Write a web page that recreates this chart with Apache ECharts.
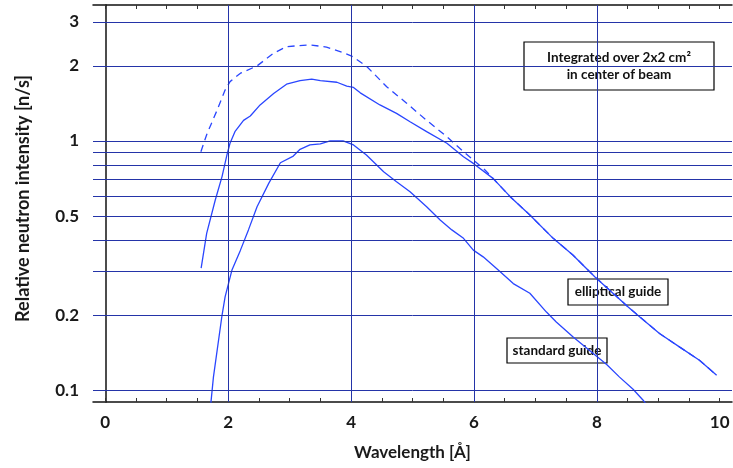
<!DOCTYPE html>
<html>
<head>
<meta charset="utf-8">
<script src="https://cdn.jsdelivr.net/npm/echarts@6/dist/echarts.min.js"></script>
<style>
html,body{margin:0;padding:0;background:#fff;}
#chart{width:733px;height:468px;}
</style>
</head>
<body>
<div id="chart"></div>
<script>
// ---- data (wavelength [Å], relative intensity [n/s]) ----
const ellipticalGuide = [
  [1.56,0.309],[1.65,0.426],[1.79,0.58],[1.90,0.72],[1.98,0.88],[2.03,0.979],[2.11,1.09],[2.25,1.21],
  [2.36,1.26],[2.52,1.395],[2.74,1.55],[2.95,1.69],[3.17,1.745],[3.36,1.77],[3.50,1.745],[3.77,1.72],
  [3.93,1.66],[4.04,1.64],[4.15,1.56],[4.47,1.395],[4.74,1.29],[4.96,1.195],[5.23,1.09],[5.56,0.979],
  [5.83,0.865],[5.99,0.813],[6.31,0.708],[6.59,0.598],[6.91,0.505],[7.29,0.407],[7.61,0.349],[7.97,0.285],
  [8.51,0.216],[8.70,0.197],[9.02,0.169],[9.35,0.149],[9.67,0.132],[9.95,0.115]
];
const dashedCurve = [
  [1.556,0.906],[1.65,1.06],[1.82,1.33],[1.95,1.60],[2.03,1.73],[2.20,1.87],[2.47,2.00],[2.74,2.25],
  [2.95,2.39],[3.33,2.43],[3.60,2.38],[3.875,2.26],[4.01,2.19],[4.255,1.99],[4.58,1.65],[4.90,1.42],
  [5.23,1.21],[5.56,1.04],[5.83,0.906],[5.99,0.839],[6.18,0.765],[6.31,0.708],[6.59,0.598],[6.91,0.505],
  [7.29,0.407],[7.61,0.349],[7.97,0.285],[8.51,0.216],[8.70,0.197],[9.02,0.169],[9.35,0.149],[9.67,0.132],
  [9.95,0.115]
];
const standardGuide = [
  [1.70,0.080],[1.76,0.113],[1.90,0.20],[1.95,0.237],[2.06,0.303],[2.20,0.365],[2.33,0.44],[2.47,0.545],
  [2.66,0.676],[2.85,0.818],[3.06,0.87],[3.17,0.926],[3.33,0.964],[3.50,0.973],[3.66,1.0],[3.87,1.0],
  [4.04,0.964],[4.25,0.879],[4.53,0.753],[4.74,0.686],[4.96,0.626],[5.23,0.545],[5.45,0.482],[5.64,0.44],
  [5.83,0.407],[5.99,0.365],[6.15,0.343],[6.40,0.303],[6.64,0.268],[6.91,0.245],[7.18,0.206],[7.34,0.188],
  [7.61,0.164],[8.16,0.127],[8.37,0.113],[8.59,0.101],[8.75,0.0915],[8.85,0.085]
];
const xTickLabels = [0,2,4,6,8,10];
const xTickMarks = [0,0.5,1,1.5,2,2.5,3,3.5,4,4.5,5,5.5,6,6.5,7,7.5,8,8.5,9,9.5,10];
const xGridValues = [2,4,6,8];
const yTickLabels = [0.1,0.2,0.5,1,2,3];
const yGridValues = [0.1,0.2,0.3,0.4,0.5,0.6,0.7,0.8,0.9,1,2,3];
const xName = 'Wavelength [Å]';
const yName = 'Relative neutron intensity [n/s]';
const noteText = ['Integrated over 2x2 cm²', 'in center of beam'];
const ellipticalLabel = 'elliptical guide';
const standardLabel = 'standard guide';

// ---- styles ----
const FONT = 'Lato, "Noto Sans", sans-serif';
const curveColor = '#2a46ff';
const gridColor = '#2434a8';
const axisColor = '#111';

const chart = echarts.init(document.getElementById('chart'), null, {renderer:'canvas'});

function box(cx, cy, w, h, lines, fs){
  const children = [{
    type:'rect', shape:{x:cx-w/2, y:cy-h/2, width:w, height:h},
    style:{fill:'#fff', stroke:'#000', lineWidth:1.2}
  }];
  const lh = fs + 3;
  lines.forEach((t,i)=>{
    children.push({
      type:'text', x:cx, y:cy + (i-(lines.length-1)/2)*lh,
      style:{text:t, fill:'#111', font:'bold '+fs+'px '+FONT, align:'center', verticalAlign:'middle'}
    });
  });
  return {type:'group', z:100, children};
}

const option = {
  animation:false,
  backgroundColor:'#fff',
  grid:{left:93, right:1, top:5, bottom:66, show:false},
  xAxis:[{
    type:'value', min:-0.2, max:10.2, position:'bottom',
    name:xName, nameLocation:'middle', nameGap:42,
    nameTextStyle:{fontFamily:FONT, fontSize:17, fontWeight:'bold', color:'#1a1a1a'},
    axisLine:{show:true, lineStyle:{color:axisColor, width:1.5}},
    axisTick:{show:true, inside:true, length:4, customValues:xTickMarks, lineStyle:{color:'#333'}},
    axisLabel:{show:true, customValues:xTickLabels, margin:12, fontFamily:FONT, fontSize:17, fontWeight:'bold', color:'#1a1a1a'},
    splitLine:{show:false}
  },{
    type:'value', min:-0.2, max:10.2, position:'top',
    axisLine:{show:true, onZero:false, lineStyle:{color:axisColor, width:1.5}},
    axisTick:{show:true, inside:true, length:4, customValues:xTickMarks, lineStyle:{color:'#333'}},
    axisLabel:{show:false},
    splitLine:{show:false}
  }],
  yAxis:{
    type:'log', logBase:10, min:0.0898, max:3.51,
    name:yName, nameLocation:'middle', nameGap:61, nameRotate:90,
    nameTextStyle:{fontFamily:FONT, fontSize:18, fontWeight:'bold', color:'#1a1a1a', padding:[0,0,0,10]},
    axisLine:{show:true, lineStyle:{color:axisColor, width:1.5}},
    axisTick:{show:false},
    axisLabel:{show:true, customValues:yTickLabels, margin:14, fontFamily:FONT, fontSize:17, fontWeight:'bold', color:'#1a1a1a',
      formatter:v=>String(+(+v).toPrecision(3))},
    splitLine:{show:false}, minorSplitLine:{show:false}
  },
  series:[
    {
      type:'line', data:[], z:1, silent:true,
      markLine:{
        silent:true, symbol:'none', animation:false,
        label:{show:false},
        lineStyle:{type:'solid', color:gridColor, width:1},
        data: yGridValues.map(v=>({yAxis:v})).concat(xGridValues.map(v=>({xAxis:v})))
      }
    },
    {type:'line', name:'elliptical', data:ellipticalGuide, showSymbol:false, symbol:'none', z:3,
      lineStyle:{color:curveColor, width:1.3}},
    {type:'line', name:'dashed', data:dashedCurve, showSymbol:false, symbol:'none', z:3,
      lineStyle:{color:curveColor, width:1.3, type:[7,5]}},
    {type:'line', name:'standard', data:standardGuide, showSymbol:false, symbol:'none', z:3,
      lineStyle:{color:curveColor, width:1.3}}
  ],
  graphic:[
    box(619, 66, 190, 48, noteText, 13.5),
    box(618, 292, 100, 26, [ellipticalLabel], 13.5),
    box(557, 350.5, 100, 25, [standardLabel], 13.5)
  ]
};
chart.setOption(option);
</script>
</body>
</html>
